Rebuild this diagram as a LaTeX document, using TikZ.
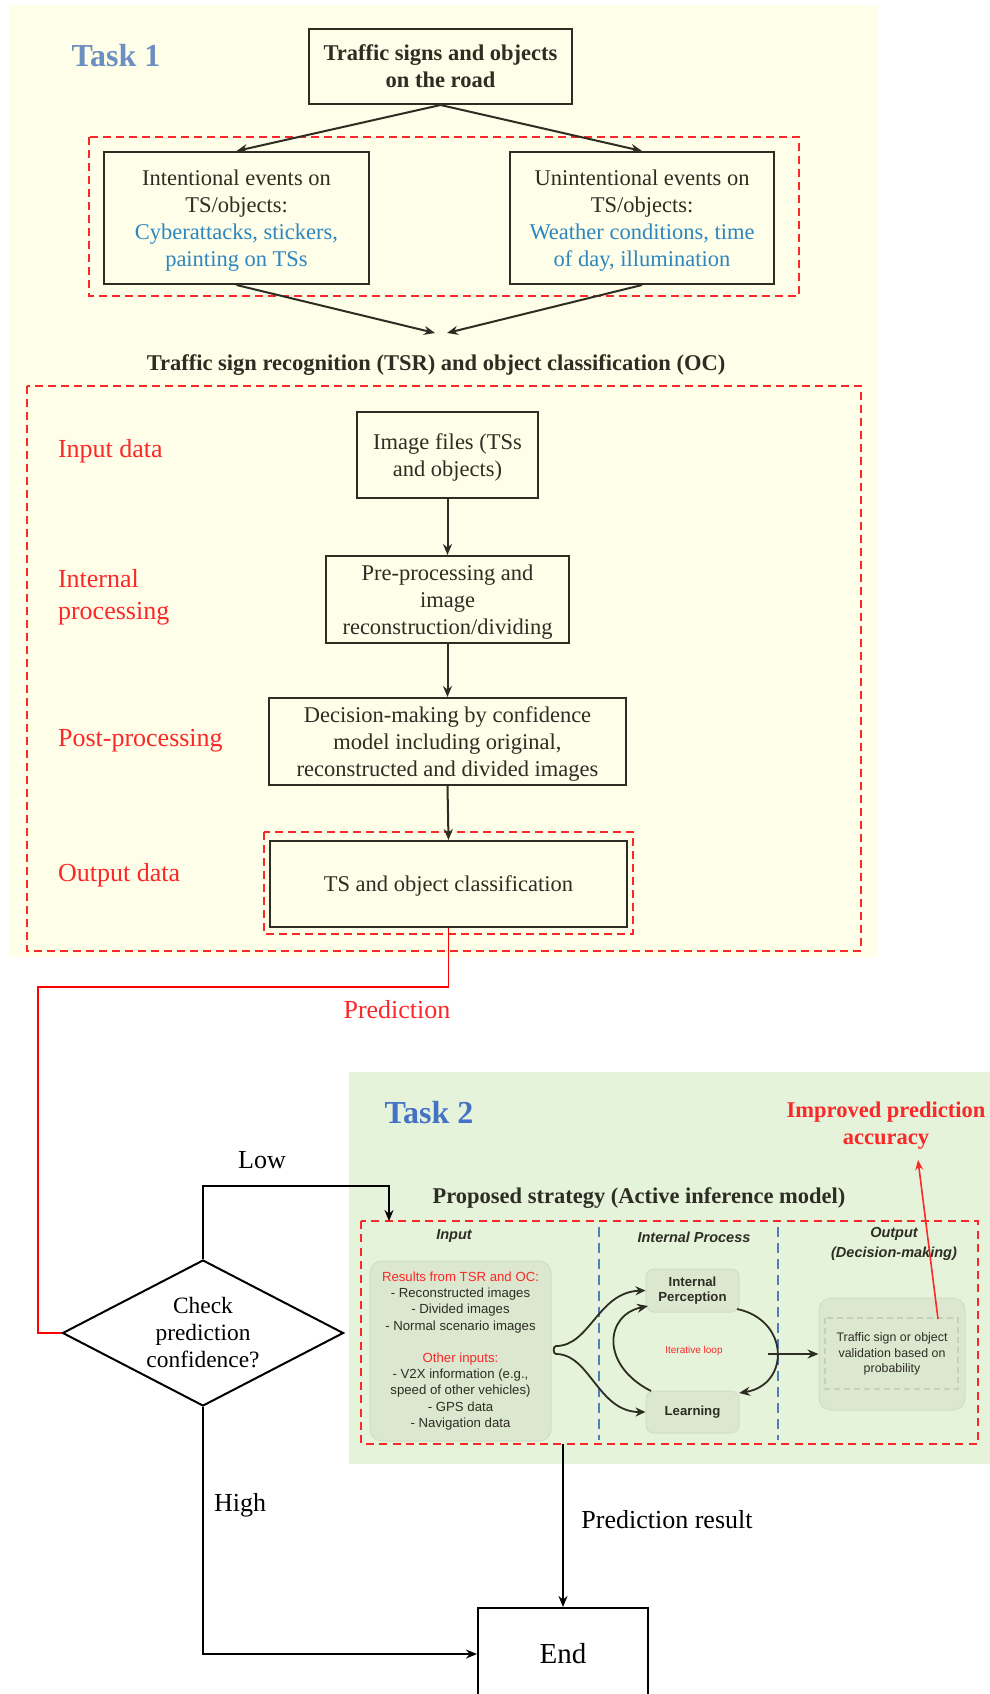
\documentclass[tikz,border=0pt]{standalone}
\usepackage{fontspec}
\setmainfont{Liberation Serif}
\setsansfont{Liberation Sans}
\usetikzlibrary{arrows.meta,shapes.geometric}
\definecolor{bgone}{RGB}{254,254,233}
\definecolor{bgtwo}{RGB}{230,243,219}
\definecolor{tone}{RGB}{108,143,193}
\definecolor{ttwo}{RGB}{68,114,196}
\definecolor{evblue}{RGB}{45,134,192}
\definecolor{rd}{RGB}{250,40,40}
\definecolor{boxc}{RGB}{45,45,35}
\definecolor{panel}{RGB}{220,231,208}
\definecolor{panelb}{RGB}{208,222,196}
\definecolor{sepblue}{RGB}{85,125,185}
\newcommand{\fs}[2]{\fontsize{#1}{#2}\selectfont}
\newcommand{\ev}[1]{\textcolor{evblue}{#1}}

\begin{document}
\begin{tikzpicture}[x=0.5pt,y=-0.5pt,
  box/.style={draw=boxc,line width=1pt,align=center,inner sep=0pt,text=boxc,text depth=0pt,font=\fs{11.25}{13.5}},
  arr/.style={-{Stealth[length=5.5pt,width=4.5pt]},line width=1pt,draw=boxc},
  barr/.style={-{Stealth[length=5.5pt,width=4.5pt]},line width=1pt,draw=black},
  reddash/.style={draw=rd,line width=0.7pt,dash pattern=on 4pt off 2.5pt},
  sepdash/.style={draw=sepblue,line width=0.6pt,dash pattern=on 5pt off 3pt},
  lab/.style={text=rd,align=left,font=\fs{13}{16}},
  head/.style={text=boxc,align=center,font=\sffamily\bfseries\itshape\fs{7.25}{9.75}},
  panelbox/.style={fill=panel,draw=panelb,line width=0.5pt,rounded corners=6pt,align=center,inner sep=0pt,text=boxc}]
  \useasboundingbox (0,0) rectangle (990,1694);
  \fill[bgone] (9,5) rectangle (878,957);
  \fill[bgtwo] (349,1072) rectangle (990,1464);
  \node[font=\bfseries\fs{16}{19},text=tone] (t1) at (116,56) {Task 1};
  \node[box,font=\bfseries\fs{11.25}{13.5},minimum width=131.5pt,minimum height=37.5pt] (road) at (440.5,66.5) {Traffic signs and objects\\on the road};
  \draw[reddash] (89,137) rectangle (799,296);
  \node[box,minimum width=132.5pt,minimum height=66pt] (intent) at (236.5,218) {Intentional events on\\TS/objects:\\\ev{Cyberattacks, stickers,}\\\ev{painting on TSs}};
  \node[box,minimum width=132pt,minimum height=66pt] (unintent) at (642,218) {Unintentional events on\\TS/objects:\\\ev{Weather conditions, time}\\\ev{of day, illumination}};
  \foreach \a in {intent,unintent} \draw[arr] (road.south) -- (\a.north);
  \draw[arr] (intent.south) -- (435,333);
  \draw[arr] (unintent.south) -- (447,333);
  \node[font=\bfseries\fs{11.25}{13.5},text=boxc] (tsr) at (436,365) {Traffic sign recognition (TSR) and object classification (OC)};
  \draw[reddash] (27,386) rectangle (861,951);
  \node[box,minimum width=90.5pt,minimum height=43pt] (img) at (447.5,455) {Image files (TSs\\and objects)};
  \node[box,minimum width=121.5pt,minimum height=43.5pt] (pre) at (447.5,599.5) {Pre-processing and\\image\\reconstruction/dividing};
  \node[box,minimum width=178.5pt,minimum height=43.5pt] (dec) at (447.5,741.5) {Decision-making by confidence\\model including original,\\reconstructed and divided images};
  \node[box,minimum width=178.5pt,minimum height=43pt] (cls) at (448.5,884) {TS and object classification};
  \draw[reddash] (264,832) rectangle (633,934);
  \foreach \a/\b in {img/pre,pre/dec,dec/cls} \draw[arr] (\a.south) -- (\b.north);
  \foreach \y/\t/\n in {451/Input data/la,597/Internal\\processing/lb,741/Post-processing/lc,875/Output data/ld}
    \node[lab,anchor=west] (\n) at (51,\y) {\t};
  \node[diamond,draw,line width=1pt,aspect=2,inner sep=0pt,minimum width=140.5pt,minimum height=73pt,align=center,font=\fs{11.7}{13.5}] (chk) at (203,1333) {Check\\prediction\\confidence?};
  \draw[draw=red,line width=0.8pt] (cls.south) |- (38,987) |- (chk.west);
  \node[lab] (pred) at (397,1010) {Prediction};
  \node[font=\bfseries\fs{16}{19},text=ttwo] (t2) at (429,1113) {Task 2};
  \node[font=\bfseries\fs{11.25}{13.5},text=rd,align=center] (impr) at (886,1126) {Improved prediction\\accuracy};
  \node[font=\bfseries\fs{11.25}{13.5},text=boxc] (strat) at (639,1198) {Proposed strategy (Active inference model)};
  \draw[reddash,line width=1.2pt,dash pattern=on 4pt off 2.7pt] (361,1221) rectangle (978,1444);
  \foreach \x in {599,778} \draw[sepdash] (\x,1227) -- (\x,1440);
  \node[head] (hin) at (454,1236) {Input};
  \node[head] (hip) at (694,1237) {Internal Process};
  \node[head] (hout) at (894,1244) {Output\\(Decision-making)};
  \node[panelbox,minimum width=90.5pt,minimum height=90pt,font=\sffamily\fs{6.6}{8.1}] (inp) at (460.5,1351)
    {\textcolor{rd}{Results from TSR and OC:}\\- Reconstructed images\\- Divided images\\- Normal scenario images\\[8.1pt]
     \textcolor{rd}{Other inputs:}\\- V2X information (e.g.,\\speed of other vehicles)\\- GPS data\\- Navigation data};
  \node[panelbox,rounded corners=4pt,minimum width=46.5pt,minimum height=21.5pt,font=\sffamily\bfseries\fs{6.6}{7.5}] (per) at (692.5,1290.5) {Internal\\Perception};
  \node[panelbox,rounded corners=4pt,minimum width=46.5pt,minimum height=21pt,font=\sffamily\bfseries\fs{6.6}{7.5}] (lrn) at (692.5,1412) {Learning};
  \node[font=\sffamily\fs{5}{6},text=rd] (iter) at (694,1351) {Iterative loop};
  \node[panelbox,minimum width=73pt,minimum height=56pt,font=\sffamily\fs{6.2}{7.75}] (out) at (892,1354) {Traffic sign or object\\validation based on\\probability};
  \draw[draw=panelb!85!gray,line width=0.6pt,dash pattern=on 3pt off 2pt] (825,1318) rectangle (958,1389);
  \draw[{Stealth[length=5pt,width=4.5pt]}-{Stealth[length=5pt,width=4.5pt]},line width=0.9pt,draw=boxc]
    (per.west) .. controls (598,1292) and (590,1346) .. (556,1346) to[out=180,in=180] (556,1354)
    .. controls (590,1354) and (598,1412) .. (lrn.west);
  \draw[arr,line width=0.9pt] (651,1391) .. controls (600,1365) and (605,1315) .. (648,1306);
  \draw[arr,line width=0.9pt] (737,1309) .. controls (790,1320) and (790,1385) .. (739,1393);
  \coordinate (lp) at (768,1354);
  \draw[arr,line width=0.9pt] (lp) -- (lp -| out.west);
  \coordinate (rs) at (938,1319);
  \coordinate (rt) at (918,1160);
  \draw[-{Stealth[length=5pt,width=4pt]},draw=rd,line width=0.8pt] (rs) -- (rt);
  \coordinate (lowtop) at (203,1186);
  \coordinate (lowin) at (389,1221);
  \draw[barr] (chk.north) -- (lowtop) -| (lowin);
  \node[lab,text=black] (low) at (262,1160) {Low};
  \node[draw,line width=1pt,minimum width=85pt,minimum height=46pt,font=\fs{14.5}{17}] (end) at (563,1654) {End};
  \draw[barr] (chk.south) |- (end.west);
  \node[lab,text=black] (high) at (240,1505) {High};
  \coordinate (res) at (563,1444);
  \draw[barr] (res) -- (end.north);
  \node[lab,text=black] (presl) at (667,1520) {Prediction result};
\end{tikzpicture}
\end{document}
